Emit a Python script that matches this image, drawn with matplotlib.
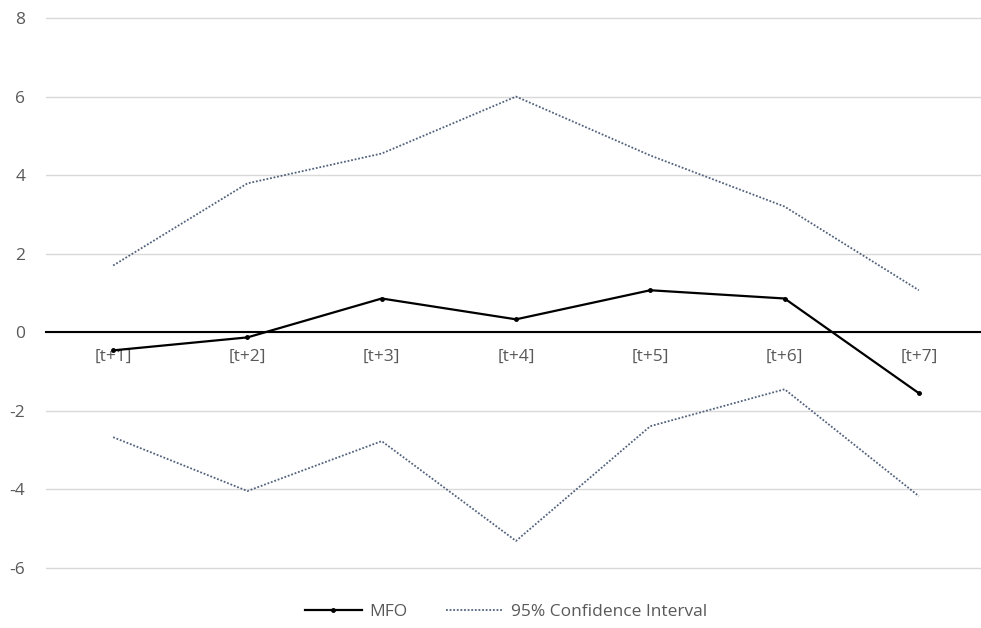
import matplotlib.pyplot as plt
import numpy as np

# horizons and values
labels = ['[t+1]', '[t+2]', '[t+3]', '[t+4]', '[t+5]', '[t+6]', '[t+7]']
mfo = [-0.46, -0.13, 0.86, 0.33, 1.07, 0.86, -1.55]
ci_upper = [1.70, 3.79, 4.55, 6.00, 4.50, 3.20, 1.07]
ci_lower = [-2.67, -4.04, -2.77, -5.31, -2.39, -1.45, -4.17]
yticks = [-6, -4, -2, 0, 2, 4, 6, 8]

plt.rcParams['font.family'] = ['Open Sans', 'DejaVu Sans']
plt.rcParams['axes.unicode_minus'] = False

fig = plt.figure(figsize=(9.81, 6.28), dpi=100)
ax = fig.add_axes([46 / 981, 1 - 570 / 628, 940 / 981, 554 / 628])

x = np.arange(1, len(labels) + 1)
ci_color = '#52627c'

ax.plot(x, ci_upper, linestyle=(0, (1, 1)), color=ci_color, lw=1.3,
        label='95% Confidence Interval')
ax.plot(x, ci_lower, linestyle=(0, (1, 1)), color=ci_color, lw=1.3)
ax.plot(x, mfo, color='black', lw=1.6, marker='o', markersize=2.5,
        label='MFO', zorder=5)

ax.set_xlim(0.5, 7.5)
ax.set_ylim(-6.05, 8.05)
ax.set_yticks(yticks)
ax.set_xticks(x)
ax.set_xticklabels(labels)

ax.grid(axis='y', color='#d9d9d9', lw=1)
ax.set_axisbelow(True)
for s in ['top', 'right', 'left']:
    ax.spines[s].set_visible(False)
ax.spines['bottom'].set_position(('data', 0))
ax.spines['bottom'].set_color('black')
ax.spines['bottom'].set_linewidth(1.5)
ax.spines['bottom'].set_zorder(4)

ax.tick_params(axis='both', length=0, colors='#595959', labelsize=12.5)
ax.tick_params(axis='x', pad=12)
ax.tick_params(axis='y', pad=15)

handles, lbls = ax.get_legend_handles_labels()
order = [1, 0]
fig.legend([handles[i] for i in order], [lbls[i] for i in order],
           loc='center', bbox_to_anchor=(506 / 981, 1 - 612 / 628),
           ncol=2, frameon=False, fontsize=12.5, labelcolor='#595959',
           handlelength=3.3, columnspacing=2.2, handletextpad=0.45)

fig.savefig('out.png', dpi=100)
